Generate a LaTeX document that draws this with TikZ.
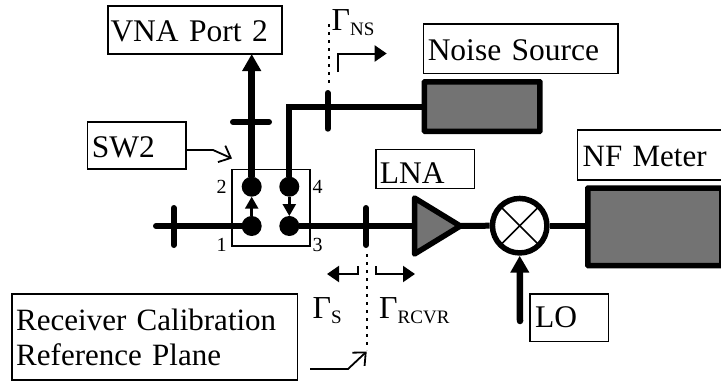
\documentclass[tikz,border=0pt]{standalone}
\usepackage{fontspec}
\setmainfont{Liberation Serif}
\usetikzlibrary{arrows.meta,calc}
\tikzset{
  lab/.style={draw=black,line width=1.5pt,outer sep=0pt,inner ysep=0pt,inner xsep=4pt,anchor=north west,align=left,font=\fontsize{31.5}{35}\selectfont},
  free/.style={inner sep=0pt,anchor=base west,font=\fontsize{32}{35}\selectfont},
  portnum/.style={inner sep=0pt,font=\fontsize{20}{22}\selectfont},
  thick line/.style={line width=6pt,line cap=butt},
  ticked/.style={line width=6pt,line cap=round},
  dot/.style={circle,fill=black,minimum size=20pt,inner sep=0pt,outer sep=0pt},
  bigarrow/.style={line width=6.5pt,-{Triangle[length=17pt,width=18pt]}},
  smallarrow/.style={line width=2.5pt,-{Triangle[length=12pt,width=13pt]}},
  gamarrow/.style={line width=2pt,-{Triangle[length=12pt,width=16pt]}},
  pointer/.style={line width=1.8pt,-{Straight Barb[length=10pt,width=18pt]}},
  instrument/.style={draw=black,fill=black!55,line width=5.5pt,rounded corners=0.5pt,outer sep=2.75pt,inner sep=0pt,anchor=north west},
  plane/.style={line width=2.4pt,dash pattern=on 3pt off 5pt},
}
\newcommand{\gam}[1]{Γ\fontsize{19}{21}\selectfont\raisebox{-5.7pt}{#1}}
\begin{document}
\begin{tikzpicture}[x=1pt,y=-1pt]
\useasboundingbox (0,0) rectangle (721,381);
% switch box
\node[draw=black,line width=1.5pt,minimum width=78pt,minimum height=76.5pt,inner sep=0pt,outer sep=0pt,anchor=north west] (swbox) at (232,169.3) {};
\node[dot] (d2) at (251.7,186.7) {};
\node[dot] (d4) at (289.3,186.7) {};
\node[dot] (d1) at (251.7,226) {};
\node[dot] (d3) at (289.3,226) {};
\draw[smallarrow] (d1) -- (d2);
\draw[smallarrow] (d4) -- (d3);
\node[portnum] (n2) at (221.5,187) {2};
\node[portnum] (n4) at (317.5,187) {4};
\node[portnum] (n1) at (221.5,245) {1};
\node[portnum] (n3) at (317.5,245) {3};
% label boxes
\node[lab,minimum width=174pt,minimum height=48pt,text width=169pt,text height=35pt,text depth=13pt,inner xsep=2.5pt] (vna) at (108,6) {VNA Port 2};
\node[lab,minimum width=194.5pt,minimum height=49.5pt,text width=186pt,text height=36pt,text depth=13.5pt] (nsl) at (423.5,24) {Noise Source};
\node[lab,minimum width=98.5pt,minimum height=47pt,text width=90pt,text height=35pt,text depth=12pt] (sw2) at (87.5,122) {SW2};
\node[lab,minimum width=98.5pt,minimum height=39pt,text width=90.5pt,text height=34pt,text depth=5pt] (lnal) at (375.8,149.3) {LNA};
\node[lab,minimum width=150pt,minimum height=50pt,text width=140pt,text height=36pt,text depth=14pt,inner xsep=5pt,font=\fontsize{31}{35}\selectfont] (nfl) at (577.7,130) {NF Meter};
\node[lab,minimum width=78.3pt,minimum height=47.7pt,text width=68.3pt,text height=33.7pt,text depth=14pt,inner xsep=5pt] (lol) at (530,294) {LO};
\node[lab,minimum width=285.5pt,minimum height=86pt,text width=277pt,text height=19pt,text depth=32pt,font=\fontsize{31}{35}\selectfont] (rcl) at (12,294) {Receiver Calibration\\Reference Plane};
% instruments
\node[instrument,minimum width=115.5pt,minimum height=49.5pt] (ns) at (421.7,79) {};
\node[instrument,minimum width=134pt,minimum height=77.5pt] (nf) at (585,185.3) {};
% triangle LNA and mixer
\coordinate (amptop) at (414.5,198);
\coordinate (ampbot) at (414.5,254);
\coordinate (amptip) at (460.3,226);
\coordinate (ampin) at (414.5,226);
\draw[fill=black!55,line width=5.5pt,line join=round] (amptop) -- (amptip) -- (ampbot) -- cycle;
\node[circle,draw=black,line width=5.5pt,minimum size=54.5pt,inner sep=0pt,outer sep=2.75pt] (mix) at (519.7,225.7) {};
\draw[line width=1.6pt] (mix.center) ++(-19.5,-19.5) -- ++(39,39);
\draw[line width=1.6pt] (mix.center) ++(-19.5,19.5) -- ++(39,-39);
% main lines
\coordinate (inlet) at (156,226);
\draw[thick line,line cap=round] (inlet) -- (d1);
\draw[thick line] (d3) -- (ampin);
\draw[thick line] (amptip) -- (mix.west);
\draw[thick line] (mix.east) -- (mix.east -| nf.west);
\coordinate (lostart) at (520,321);
\draw[bigarrow,line cap=round] (lostart) -- (mix.south);
\draw[bigarrow] (d2) -- (vna.south -| d2);
\draw[thick line] (d4) |- (ns.west);
% ticks
\coordinate (t1a) at (173.7,208); \coordinate (t1b) at (173.7,245);
\coordinate (t2a) at (233,122); \coordinate (t2b) at (269,122);
\coordinate (t3a) at (327.7,93); \coordinate (t3b) at (327.7,128.7);
\coordinate (t4a) at (366,208); \coordinate (t4b) at (366,245);
\draw[ticked] (t1a) -- (t1b);
\draw[ticked] (t2a) -- (t2b);
\draw[ticked] (t3a) -- (t3b);
\draw[ticked] (t4a) -- (t4b);
% reference planes
\coordinate (p1a) at (328.7,24); \coordinate (p1b) at (328.7,84);
\coordinate (p2a) at (367,254); \coordinate (p2b) at (367,350);
\draw[plane] (p1a) -- (p1b);
\draw[plane] (p2a) -- (p2b);
% gamma labels
\node[free] (gns) at (331.5,30) {\gam{NS}};
\node[free] (gs) at (312.5,318) {\gam{S}};
\node[free] (gr) at (379,318) {\gam{RCVR}};
% gamma arrows
\coordinate (ga0) at (337.7,72); \coordinate (ga1) at (337.7,53.5); \coordinate (ga2) at (386.7,53.5);
\draw[gamarrow] (ga0) -- (ga1) -- (ga2);
\coordinate (gb0) at (358,266); \coordinate (gb1) at (358,274); \coordinate (gb2) at (327,274);
\draw[gamarrow] (gb0) -- (gb1) -- (gb2);
\coordinate (gc0) at (376,266); \coordinate (gc1) at (376,274); \coordinate (gc2) at (415,274);
\draw[gamarrow] (gc0) -- (gc1) -- (gc2);
% pointers
\coordinate (pa0) at (185,150); \coordinate (pa1) at (213,150); \coordinate (pa2) at (232,158.5);
\draw[pointer] (pa0) -- (pa1) -- (pa2);
\coordinate (pb0) at (310,369); \coordinate (pb1) at (348,369); \coordinate (pb2) at (366.7,351.5);
\draw[pointer] (pb0) -- (pb1) -- (pb2);
\end{tikzpicture}
\end{document}
